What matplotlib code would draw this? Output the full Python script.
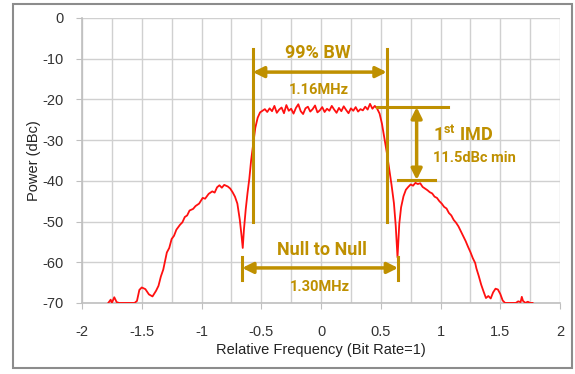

# Import Libraries
import matplotlib
matplotlib.use("Agg")
import matplotlib.pyplot as plt
from matplotlib.patches import Rectangle

plt.rcParams['font.family'] = ['Liberation Sans', 'DejaVu Sans']
plt.rcParams['axes.unicode_minus'] = False
plt.rcParams['mathtext.fontset'] = 'custom'
plt.rcParams['mathtext.rm'] = 'Roboto:bold'
plt.rcParams['mathtext.bf'] = 'Roboto:bold'

# Spectrum (relative frequency, power in dBc)
freq_left = [-1.78, -1.76, -1.75, -1.73, -1.71, -1.69, -1.65, -1.60, -1.56, -1.54,
             -1.52, -1.50, -1.47, -1.44, -1.41, -1.38, -1.36, -1.34, -1.32, -1.30,
             -1.29, -1.27, -1.25, -1.23, -1.21, -1.18, -1.16, -1.14, -1.12, -1.10,
             -1.07, -1.05, -1.02, -0.99, -0.97, -0.94, -0.91, -0.89, -0.87, -0.85,
             -0.83, -0.81, -0.78, -0.76, -0.74, -0.72, -0.70, -0.68, -0.665, -0.655,
             -0.645, -0.63, -0.615, -0.60, -0.585, -0.57, -0.55, -0.53, -0.51, -0.49]
power_left = [-70, -69.2, -70, -68.6, -69.8, -70, -70, -70, -70, -69.5,
              -66.8, -66.2, -66.6, -67.9, -68.4, -67.0, -65.8, -63.5, -61.8, -59.0,
              -57.6, -56.5, -54.3, -53.5, -52.0, -50.8, -50.2, -48.9, -48.5, -47.3,
              -46.9, -46.2, -45.6, -44.2, -44.4, -43.2, -42.6, -42.9, -41.6, -41.1,
              -41.7, -41.0, -41.4, -41.9, -42.8, -43.9, -45.6, -49.5, -53.5, -56.5,
              -52.0, -47.0, -43.0, -39.5, -35.0, -31.5, -27.0, -24.5, -23.2, -22.8]

freq_main = [-0.47, -0.45, -0.43, -0.41, -0.39, -0.37, -0.35, -0.33, -0.31, -0.29,
             -0.27, -0.25, -0.23, -0.21, -0.19, -0.17, -0.15, -0.13, -0.11, -0.09,
             -0.07, -0.05, -0.03, -0.01, 0.01, 0.03, 0.05, 0.07, 0.09, 0.11,
             0.13, 0.15, 0.17, 0.19, 0.21, 0.23, 0.25, 0.27, 0.29, 0.31,
             0.33, 0.35, 0.37, 0.39, 0.41, 0.43, 0.45]
power_main = [-22.4, -23.1, -22.2, -22.9, -21.6, -23.3, -22.5, -22.0, -23.4, -21.4,
              -22.8, -22.3, -23.5, -22.1, -21.2, -22.9, -23.6, -22.2, -21.8, -23.0,
              -22.4, -21.5, -23.2, -22.7, -21.9, -23.1, -22.3, -22.8, -21.6, -22.5,
              -23.3, -22.1, -22.9, -21.7, -22.6, -23.4, -22.2, -22.8, -21.9, -23.0,
              -22.4, -22.7, -21.8, -22.5, -21.1, -22.3, -21.6]

freq_right = [0.47, 0.49, 0.51, 0.53, 0.55, 0.57, 0.59, 0.61, 0.625, 0.64,
              0.655, 0.67, 0.69, 0.71, 0.73, 0.75, 0.77, 0.79, 0.81, 0.83,
              0.85, 0.87, 0.89, 0.91, 0.93, 0.95, 0.97, 0.99, 1.01, 1.03,
              1.05, 1.07, 1.09, 1.11, 1.13, 1.15, 1.17, 1.19, 1.21, 1.23,
              1.25, 1.27, 1.29, 1.30, 1.32, 1.34, 1.36, 1.38, 1.40, 1.42,
              1.44, 1.46, 1.48, 1.50, 1.52, 1.54, 1.58, 1.63, 1.65, 1.67,
              1.68, 1.69, 1.71, 1.73, 1.75, 1.77]
power_right = [-22.3, -23.5, -26.0, -29.5, -33.0, -37.0, -41.0, -45.5, -51.0, -58.8,
               -50.5, -46.5, -43.8, -42.2, -41.5, -40.9, -41.2, -40.5, -40.8, -40.6,
               -41.5, -41.9, -42.3, -42.8, -43.1, -43.9, -44.2, -45.0, -45.6, -46.4,
               -46.8, -47.9, -48.5, -49.6, -50.3, -51.2, -52.4, -53.6, -54.8, -56.2,
               -57.5, -59.0, -60.2, -61.5, -63.4, -65.5, -67.2, -68.8, -68.3, -68.9,
               -67.4, -66.5, -66.7, -67.8, -69.4, -70, -70, -70, -69.6, -69.8,
               -68.5, -69.5, -70, -69.7, -70, -70]

freq = freq_left + freq_main + freq_right
power = power_left + power_main + power_right

x_ticks = [-2, -1.5, -1, -0.5, 0, 0.5, 1, 1.5, 2]
x_tick_labels = ["-2", "-1.5", "-1", "-0.5", "0", "0.5", "1", "1.5", "2"]
y_ticks = [0, -10, -20, -30, -40, -50, -60, -70]

# Annotation values
bw99_edges = (-0.57, 0.55)
null_edges = (-0.66, 0.645)
imd_top = -21.9
imd_bottom = -39.8

gold = "#BF9000"
ann_font = ['Roboto', 'DejaVu Sans']

# Plot Data
fig = plt.figure(figsize=(5.75, 3.74), dpi=100)
ax = fig.add_axes([0.1426, 0.190, 0.8314, 0.762])

ax.plot(freq, power, color="#FF1010", lw=1.3, zorder=3)

ax.set_xlim(-2, 2)
ax.set_ylim(-70, 0)
ax.set_xticks(x_ticks)
ax.set_xticklabels(x_tick_labels)
ax.set_xticks([v / 4 for v in range(-8, 9)], minor=True)
ax.set_yticks(y_ticks)
ax.grid(which="both", axis="x", color="#D0D0D0", lw=1.0)
ax.grid(which="major", axis="y", color="#D0D0D0", lw=1.0)
ax.tick_params(axis="both", which="major", labelsize=10.5, colors="#333333",
               length=4, color="#BFBFBF")
ax.tick_params(axis="x", which="minor", length=0)
ax.tick_params(axis="x", pad=12)
ax.tick_params(axis="y", pad=9)
for s in ["top", "right"]:
    ax.spines[s].set_visible(False)
for s in ["left", "bottom"]:
    ax.spines[s].set_color("#BFBFBF")
    ax.spines[s].set_linewidth(1.2)
ax.set_xlabel("Relative Frequency (Bit Rate=1)", fontsize=10.5, color="#222222", labelpad=3)
ax.set_ylabel("Power (dBc)", fontsize=10.5, color="#222222", labelpad=1)

# 99% BW
for xv in bw99_edges:
    ax.plot([xv, xv], [-7.6, -50], color=gold, lw=2.2, zorder=4)
ax.annotate("", xy=(bw99_edges[0], -13.3), xytext=(bw99_edges[1], -13.3),
            arrowprops=dict(arrowstyle="<|-|>", color=gold, lw=2.5, mutation_scale=16,
                            shrinkA=0, shrinkB=0), zorder=4)
ax.text(-0.03, -8.6, "99% BW", color=gold, fontsize=13, fontweight="bold",
        family=ann_font, ha="center", va="center")
ax.text(-0.02, -17.7, "1.16MHz", color=gold, fontsize=10.5, fontweight="bold",
        family=ann_font, ha="center", va="center")

# Null to Null
for xv in null_edges:
    ax.plot([xv, xv], [-58.7, -64.4], color=gold, lw=2.2, zorder=4)
ax.annotate("", xy=(null_edges[0], -61.4), xytext=(null_edges[1], -61.4),
            arrowprops=dict(arrowstyle="<|-|>", color=gold, lw=2.5, mutation_scale=16,
                            shrinkA=0, shrinkB=0), zorder=4)
ax.text(0.01, -57.0, "Null to Null", color=gold, fontsize=13, fontweight="bold",
        family=ann_font, ha="center", va="center")
ax.text(-0.01, -66.0, "1.30MHz", color=gold, fontsize=10.5, fontweight="bold",
        family=ann_font, ha="center", va="center")

# 1st IMD
ax.plot([0.47, 1.06], [imd_top, imd_top], color=gold, lw=2.2, zorder=4)
ax.plot([0.645, 0.95], [imd_bottom, imd_bottom], color=gold, lw=2.2, zorder=4)
ax.annotate("", xy=(0.80, imd_top), xytext=(0.80, imd_bottom),
            arrowprops=dict(arrowstyle="<|-|>", color=gold, lw=2.5, mutation_scale=16,
                            shrinkA=0, shrinkB=0), zorder=4)
ax.text(0.94, -28.7, r"1$^{\mathbf{st}}$ IMD", color=gold, fontsize=13, fontweight="bold",
        family=ann_font, ha="left", va="center")
ax.text(0.94, -34.4, "11.5dBc min", color=gold, fontsize=10.5, fontweight="bold",
        family=ann_font, ha="left", va="center")

# Outer frame
fig.patches.append(Rectangle((13 / 575, 1 - 368 / 374), 559 / 575, 364 / 374,
                             transform=fig.transFigure, fill=False,
                             edgecolor="#8C8C8C", lw=1.5))

fig.savefig("out.png", dpi=100)
